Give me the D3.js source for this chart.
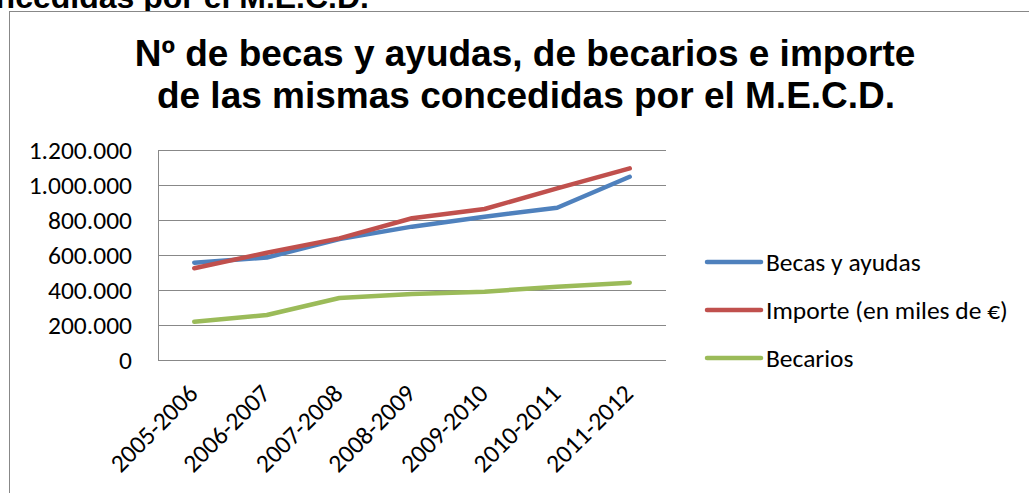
<!DOCTYPE html>
<html>
<head>
    <title>Becas y ayudas M.E.C.D.</title>
    <script src="https://d3js.org/d3.v7.min.js"></script>
    <style>
        body {
            margin: 0;
            overflow: hidden;
            background: white;
        }
        .axis-label {
            font-family: Carlito, Lato, "Open Sans", sans-serif;
            font-size: 25.5px;
            fill: #000;
        }
        .title {
            font-family: Arial, "Liberation Sans", sans-serif;
            font-weight: bold;
            font-size: 37px;
            fill: #000;
        }
    </style>
</head>
<body>
    <div id="viz"></div>
    <script>
        // Data
        const years = ['2005-2006', '2006-2007', '2007-2008', '2008-2009', '2009-2010', '2010-2011', '2011-2012'];
        const becasAyudas = [556000, 586000, 691000, 762000, 819000, 870000, 1047000];
        const importe = [524000, 613000, 695000, 810000, 863000, 981000, 1095000];
        const becarios = [219000, 257000, 354000, 377000, 390000, 419000, 442000];
        const yTicks = [0, 200000, 400000, 600000, 800000, 1000000, 1200000];
        const seriesNames = ['Becas y ayudas', 'Importe (en miles de €)', 'Becarios'];
        const seriesColors = ['#4F81BD', '#C0504D', '#9BBB59'];

        const width = 1029;
        const height = 493;

        const svg = d3.select('#viz')
            .append('svg')
            .attr('width', width)
            .attr('height', height);

        // Cut-off heading above the chart frame
        svg.append('text')
            .attr('class', 'title')
            .attr('x', 369)
            .attr('y', 8)
            .attr('text-anchor', 'end')
            .style('font-size', '32px')
            .text('concedidas por el M.E.C.D.');

        // Chart frame (runs off the page right and bottom)
        svg.append('rect')
            .attr('x', 9.5)
            .attr('y', 11.5)
            .attr('width', 1100)
            .attr('height', 600)
            .attr('fill', 'white')
            .attr('stroke', '#888')
            .attr('stroke-width', 1);

        // Title
        const title = svg.append('text')
            .attr('class', 'title')
            .attr('text-anchor', 'middle');
        title.append('tspan').attr('x', 525).attr('y', 66).text('Nº de becas y ayudas, de becarios e importe');
        title.append('tspan').attr('x', 526).attr('y', 108).text('de las mismas concedidas por el M.E.C.D.');

        const plot = { left: 158, top: 150, right: 666, bottom: 360 };

        const x = d3.scalePoint()
            .domain(years)
            .range([plot.left, plot.right])
            .padding(0.5);

        const y = d3.scaleLinear()
            .domain([0, 1200000])
            .range([plot.bottom, plot.top]);

        const fmt = v => d3.format(',')(v).replace(/,/g, '.');

        // Gridlines
        svg.append('g')
            .selectAll('line')
            .data(yTicks)
            .enter().append('line')
            .attr('x1', plot.left)
            .attr('x2', plot.right)
            .attr('y1', d => Math.round(y(d)) + 0.5)
            .attr('y2', d => Math.round(y(d)) + 0.5)
            .attr('stroke', '#888')
            .attr('stroke-width', 1);

        // Y axis line
        svg.append('line')
            .attr('x1', plot.left + 0.5)
            .attr('x2', plot.left + 0.5)
            .attr('y1', plot.top)
            .attr('y2', plot.bottom)
            .attr('stroke', '#888');

        // Y labels
        svg.append('g')
            .selectAll('text')
            .data(yTicks)
            .enter().append('text')
            .attr('class', 'axis-label')
            .attr('x', 132)
            .attr('y', d => y(d))
            .attr('dy', '0.35em')
            .attr('text-anchor', 'end')
            .text(fmt);

        // X labels, rotated
        svg.append('g')
            .selectAll('text')
            .data(years)
            .enter().append('text')
            .attr('class', 'axis-label')
            .attr('text-anchor', 'end')
            .attr('transform', d => `translate(${x(d) + 5},${plot.bottom + 35}) rotate(-45)`)
            .text(d => d);

        // Lines
        const line = d3.line()
            .x((d, i) => x(years[i]))
            .y(d => y(d));

        const allSeries = [becasAyudas, importe, becarios];

        svg.append('g')
            .selectAll('path')
            .data(allSeries)
            .enter().append('path')
            .attr('d', line)
            .attr('fill', 'none')
            .attr('stroke', (d, i) => seriesColors[i])
            .attr('stroke-width', 4.5)
            .attr('stroke-linecap', 'round')
            .attr('stroke-linejoin', 'round');

        // Legend
        const legend = svg.append('g')
            .selectAll('g')
            .data(seriesNames)
            .enter().append('g')
            .attr('transform', (d, i) => `translate(707,${262 + i * 48})`);

        legend.append('line')
            .attr('x1', 0)
            .attr('x2', 54)
            .attr('stroke', (d, i) => seriesColors[i])
            .attr('stroke-width', 4.5)
            .attr('stroke-linecap', 'round');

        legend.append('text')
            .attr('class', 'axis-label')
            .attr('x', 59)
            .attr('dy', '0.35em')
            .text(d => d);
    </script>
</body>
</html>
